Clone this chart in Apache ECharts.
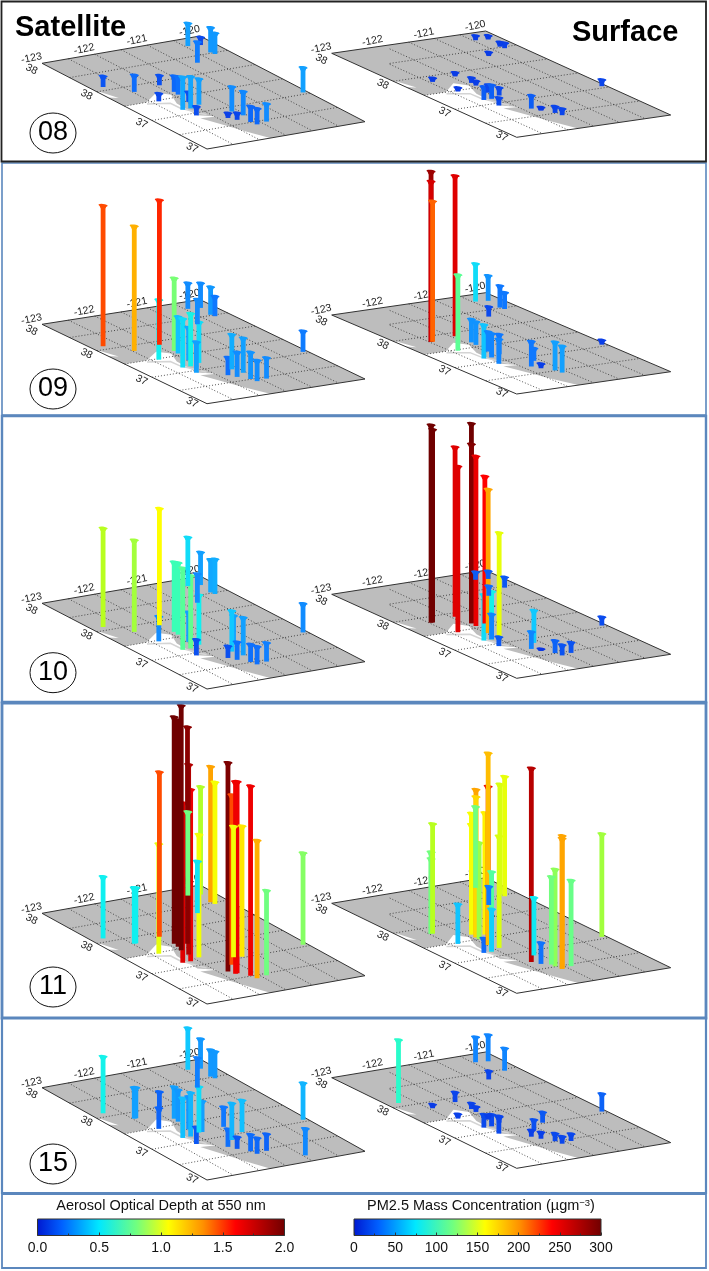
<!DOCTYPE html>
<html><head><meta charset="utf-8">
<style>html,body{margin:0;padding:0;background:#fff}#c{width:709px;height:1271px}</style>
<script src="https://cdn.jsdelivr.net/npm/echarts@6/dist/echarts.min.js"></script>
</head><body><div id="c"></div>
<script>
// Monitoring stations (longitude, latitude)
const stationLon=[-122.78,-122.47,-122.44,-121.93,-122.38,-121.90,-121.92,-122.27,-121.97,-122.12,-121.90,-122.23,-120.45,-120.24,-120.77,-120.28,-120.30,-121.62,-121.40,-121.27,-121.56,-121.85,-121.77,-121.64,-121.61,-121.40,-120.08,-120.96,-121.97,-121.71,-121.80,-121.84,-121.40,-121.93,-121.64];
const stationLat=[37.70,37.61,37.61,37.63,37.49,37.55,37.52,37.38,37.44,37.38,37.40,37.31,37.93,37.92,37.77,37.82,37.84,37.29,37.35,37.34,37.24,37.24,37.21,37.17,37.14,37.15,37.35,37.055,37.485,37.53,37.21,37.40,37.41,37.50,37.19];
const sat08=[[0,.11],[1,.17],[4,.08],[3,.10],[5,.16],[6,.18],[7,.33],[8,.10],[9,.32],[11,.09],[10,.26,.3],[12,.23,.3],[13,.08],[16,.25,.28],[15,.21,.28],[14,.21],[21,.05],[17,.25],[22,.07],[20,.24],[23,.16],[24,.16],[25,.18,.25],[26,.25,.3]];
const sat09=[[0,1.41,1.40],[1,1.25,1.25],[4,.6,.55],[3,1.45,1.45],[5,.73,.85],[6,.37,.42],[7,.49,.5],[8,.33],[9,.53,.58],[10,.41,.5],[11,.31,.3],[12,.26,.25],[13,.25],[16,.28],[15,.2],[14,.25],[21,.18],[17,.35],[22,.25],[20,.35,.3],[23,.27],[24,.21,.25],[25,.21,.25],[26,.21]];
const sat10=[[0,.99,1.0],[1,.92,.95],[4,.25],[3,1.17,1.15],[8,.3],[5,.70,.72],[6,.72],[7,.82,.78],[9,.73,.8],[10,.5,.55],[11,.16,.1],[12,.49,.5],[13,.33,.3],[14,.29,.25],[16,.33],[15,.35],[18,.29,.3],[17,.41,.45],[20,.38,.3],[21,.12,.1],[22,.18],[23,.18],[24,.18],[25,.19,.22],[26,.29,.25]];
const sat11=[[0,.62,.55],[1,.56,.55],[2,.56,.55],[4,1.1],[3,1.65,1.4],[7,1.6,1.6],[9,1.72,1.55],[8,1.9,1.75],[29,2.17,1.9],[5,2.27,2.0],[6,2.27,2.0],[28,2.45,2.0],[12,.84,.83],[13,1.08,.98],[10,1.23,1.12],[14,.52],[16,1.36,1.27],[15,1.22,1.13],[21,2.09,1.95],[17,1.7,1.4],[22,1.92,1.55],[30,1.92,1.55],[18,1.31,1.12],[19,1.31,1.18],[23,1.9,1.55],[24,1.38,1.25],[25,.85,.83],[26,.92,.88]];
const sat15=[[0,.57],[1,.31,.3],[2,.31,.3],[3,.2,.15],[4,.21,.15],[5,.32,.3],[6,.32,.28],[7,.4,.42],[8,.33,.28],[9,.44,.38],[11,.17,.12],[31,.31,.3],[10,.46,.5],[12,.42,.45],[13,.3,.28],[14,.3,.22],[16,.27,.28],[15,.27,.28],[32,.2],[21,.18],[17,.37,.38],[19,.32,.42],[22,.12],[23,.17],[24,.16],[25,.17,.15],[26,.37,.38],[27,.27,.24]];
const sur08=[[2,6],[3,6],[4,6],[5,8],[6,7],[7,20],[8,12],[9,21],[11,12],[10,12],[12,7],[13,6],[15,8],[16,7],[14,6],[21,20],[22,5],[23,10],[24,10],[26,10]];
const sur09=[[1,256,275],[1,241,245],[2,211,205],[3,241,240],[4,114,118],[12,57,75],[13,38,40],[15,25,30],[16,33,30],[14,15,12],[5,35,40],[6,35,40],[7,51,65],[9,36,35],[8,30,35],[10,30],[11,37,35],[21,38,30],[17,19,30],[22,7],[23,43,45],[24,40,45],[26,7]];
const sur10=[[1,297,300],[2,290,300],[3,255,240],[4,249,240],[5,300,300],[5,269,290],[6,255,235],[7,69,75],[29,221,225],[8,216,190],[9,72,85],[10,155,165],[11,14,18],[9,38,35],[12,12,20],[13,12,20],[15,16,18],[14,15,25],[17,49,68],[21,26,35],[22,3],[23,19,22],[24,16],[25,16],[26,13]];
const sur11=[[1,123,125],[1,113,125],[2,165,150],[4,60,65],[5,182,170],[5,165,170],[6,222,190],[6,211,180],[33,145,140],[29,183,175],[7,22,25],[8,238,235],[8,288,185],[12,122,125],[9,120,115],[14,28,30],[9,64,70],[10,168,160],[16,166,160],[15,180,165],[21,291,260],[17,87,80],[22,32,28],[23,146,135],[34,132,125],[25,129,122],[24,200,190],[24,196,190],[26,155,142]];
const sur15=[[0,95,100],[2,6],[3,15,10],[4,7,8],[5,9],[6,8],[7,20,12],[9,18,12],[8,7],[11,25,12],[10,10],[12,38,35],[13,40,35],[15,34,35],[14,13,10],[19,16,18],[17,16,15],[21,10,8],[22,10,8],[23,12],[24,11],[25,11],[26,27,22]];

// Map axes and land-mask outline
const lonTicks=[-123,-122,-121,-120];
const latTicks=[38,37.667,37.333,37];
const latTickLabels=['38','38','37','37'];
const gridLons=[-123,-122.5,-122,-121.5,-121,-120.5,-120];
const gridLats=[38,37.833,37.667,37.5,37.333,37.167,37];
const maskLon=[-123,-123,-122.58,-122.18,-122.02,-122.18,-122.21,-121.97,-122.25,-122.08,-121.96,-121.8];
const maskLat=[37,37.5,37.5,37.57,37.53,37.445,37.31,37.27,37.28,37.17,37.09,37];
const streakLon=[-123,-122.96,-122.86,-123];
const streakLat=[37.66,37.66,37.58,37.6];
const coastLon=[-122.62,-122.27,-122.26,-122.07];
const coastLat=[37.485,37.455,37.40,37.30];

// Colour bars
const aodTicks=[0,2], pmTicks=[0,300];
const panelNames=['08','09','10','11','15'];
const satPanels=[sat08,sat09,sat10,sat11,sat15];
const surPanels=[sur08,sur09,sur10,sur11,sur15];

// Layout (plane corners in the page)
const satPlane={ax:42,bx:200,dx:207,ay:[63.3,324.3,603.3,913.3,1087.7],by:[36,299.6,576,885,1059],dy:[149,403.7,689,1004,1180],pxPerUnit:100,norm:1,inset:3};
const surPlane={ax:331.7,bx:485.7,dx:516.7,ay:[53.3,315,594.3,903.3,1077.7],by:[31,292.7,570.3,877.7,1052],dy:[137.3,394,678.3,993.3,1168.3],pxPerUnit:100/150,norm:150,inset:58};
const circleY=[133,389,672.7,987,1164];
const colorStops=[[0,'#0a2fe0'],[.1,'#0b50f0'],[.2,'#0f78ff'],[.3,'#12a0ff'],[.45,'#10c8ff'],[.55,'#10f0f0'],[.7,'#30ffc0'],[.83,'#70ff80'],[1,'#b8ff20'],[1.15,'#ffff00'],[1.25,'#ffb000'],[1.38,'#ff5a00'],[1.5,'#ff0000'],[1.7,'#c00000'],[2,'#700000']];
const barStops=[[0,'#0018d0'],[.1,'#0060ff'],[.25,'#00e8ff'],[.4,'#70ff80'],[.53,'#ffff00'],[.67,'#ff9000'],[.8,'#ff0000'],[1,'#700000']];

function hex(c){return [1,3,5].map(i=>parseInt(c.substr(i,2),16));}
function colorOf(v){
  if(v<=colorStops[0][0])return colorStops[0][1];
  for(let i=1;i<colorStops.length;i++){
    if(v<=colorStops[i][0]){
      const a=colorStops[i-1],b=colorStops[i],f=(v-a[0])/(b[0]-a[0]),x=hex(a[1]),y=hex(b[1]);
      return 'rgb('+x.map((q,k)=>Math.round(q+(y[k]-q)*f)).join(',')+')';
    }
  }
  return colorStops[colorStops.length-1][1];
}
function shear(p,cs,shX,shY){
  const u=(p[0]-cs.x)/cs.width,v=(p[1]-cs.y)/cs.height;
  return [p[0]+v*shX,p[1]+u*shY];
}
const grids=[],xAxes=[],yAxes=[],series=[],graphic=[];
function addPlane(cfg,row,list){
  const idx=grids.length, ax=cfg.ax, ay=cfg.ay[row];
  const shX=cfg.dx-ax, shY=cfg.by[row]-ay;
  grids.push({left:ax,top:ay,width:cfg.bx-ax,height:cfg.dy[row]-ay,show:false});
  xAxes.push({type:'value',gridIndex:idx,min:-123,max:-120,show:false});
  yAxes.push({type:'value',gridIndex:idx,min:37,max:38,show:false});
  const P=(api,cs,lon,lat)=>shear(api.coord([lon,lat]),cs,shX,shY);
  series.push({type:'custom',coordinateSystem:'cartesian2d',xAxisIndex:idx,yAxisIndex:idx,silent:true,z:2,
    data:[[-123,38]],
    renderItem(params,api){
      const cs=params.coordSys,ch=[];
      const corners=[[-123,38],[-120,38],[-120,37],[-123,37]].map(c=>P(api,cs,c[0],c[1]));
      ch.push({type:'polygon',shape:{points:corners},style:{fill:'#bdbdbd',stroke:null}});
      ch.push({type:'polygon',shape:{points:maskLon.map((l,i)=>P(api,cs,l,maskLat[i]))},style:{fill:'#fff'}});
      ch.push({type:'polygon',shape:{points:streakLon.map((l,i)=>P(api,cs,l,streakLat[i]))},style:{fill:'#fff'}});
      ch.push({type:'polyline',shape:{points:coastLon.map((l,i)=>P(api,cs,l,coastLat[i]))},style:{fill:null,stroke:'#d4d4d4',lineWidth:1.5}});
      const minX=cfg.ax+cfg.inset;
      const seg=(a,b)=>{
        if(a[0]<minX){const f=(minX-a[0])/(b[0]-a[0]);if(f>=1)return;a=[minX,a[1]+(b[1]-a[1])*f];}
        ch.push({type:'line',shape:{x1:a[0],y1:a[1],x2:b[0],y2:b[1]},style:{stroke:'#2a2a2a',lineWidth:.8,lineDash:[1,2]}});
      };
      gridLats.slice(1,-1).forEach(la=>seg(P(api,cs,-123,la),P(api,cs,-120,la)));
      gridLons.slice(1,-1).forEach(lo=>seg(P(api,cs,lo,38),P(api,cs,lo,37)));
      ch.push({type:'polygon',shape:{points:corners},style:{fill:null,stroke:'#333',lineWidth:1}});
      lonTicks.forEach(lo=>{
        const p=P(api,cs,lo,38);
        ch.push({type:'text',x:p[0]-10.5,y:p[1]-5,rotation:12*Math.PI/180,style:{text:String(lo),fill:'#222',font:'10.5px "Liberation Sans"',align:'center',verticalAlign:'middle'}});
      });
      latTicks.forEach((la,i)=>{
        const p=P(api,cs,-123,la);
        ch.push({type:'text',x:p[0]-(i==3?15:10.5),y:p[1]+(i==0?6:i==3?-1:3),rotation:-27*Math.PI/180,style:{text:latTickLabels[i],fill:'#222',font:'10.5px "Liberation Sans"',align:'center',verticalAlign:'middle'}});
      });
      return {type:'group',children:ch};
    }
  });
  series.push({type:'custom',coordinateSystem:'cartesian2d',xAxisIndex:idx,yAxisIndex:idx,silent:true,z:3,
    encode:{x:0,y:1},
    data:list.map(e=>[stationLon[e[0]],stationLat[e[0]],e[1],e.length>2?e[2]:e[1]]),
    renderItem(params,api){
      const cs=params.coordSys;
      const b=P(api,cs,api.value(0),api.value(1));
      const h=api.value(2)*cfg.pxPerUnit;
      const fill=colorOf(api.value(3)/cfg.norm);
      const x=b[0],top=b[1]-h,hw=2.4,cap=[];
      for(let i=0;i<16;i++){
        const a=i/16*2*Math.PI,ex=4.6*Math.cos(a),ey=1.4*Math.sin(a);
        cap.push([x+ex,top+ey+ex*.12]);
      }
      return {type:'group',children:[
        {type:'rect',shape:{x:x-hw,y:top,width:hw*2,height:h},style:{fill}},
        {type:'polygon',shape:{points:[[x-3.8,top],[x+3.8,top],[x+hw,top+Math.min(3,h)],[x-hw,top+Math.min(3,h)]]},style:{fill}},
        {type:'polygon',shape:{points:cap},style:{fill}}
      ]};
    }
  });
}
panelNames.forEach((n,r)=>{addPlane(satPlane,r,satPanels[r]);addPlane(surPlane,r,surPanels[r]);});

// Colour bars: real axes over a gradient-filled grid
const barGradient=new echarts.graphic.LinearGradient(0,0,1,0,barStops.map(s=>({offset:s[0],color:s[1]})));
function addBar(left,width,max,interval,fmt){
  const idx=grids.length;
  grids.push({left,top:1219,width,height:16.5,show:true,backgroundColor:barGradient,borderColor:'#333',borderWidth:1});
  xAxes.push({type:'value',gridIndex:idx,min:0,max,interval,position:'bottom',
    axisLine:{show:false},splitLine:{show:false},
    axisTick:{show:true,inside:true,length:3,lineStyle:{color:'#333',width:1}},
    minorTick:{show:true,splitNumber:2,length:2,lineStyle:{color:'#333',width:1}},
    axisLabel:{show:true,margin:6,formatter:fmt,color:'#111',fontFamily:'Liberation Sans',fontSize:14,hideOverlap:false,showMinLabel:true,showMaxLabel:true}});
  yAxes.push({type:'value',gridIndex:idx,min:0,max:1,show:false});
}
addBar(37.5,247,aodTicks[1],.5,v=>v.toFixed(1));
addBar(354,247,pmTicks[1],50,v=>String(v));

// Frames, headings, day badges
const blue='#5b87bd';
[[2,163,704,252,1.6],[2,416,704,286,2.4],[2,703,704,315,2.8],[2,1018,704,175,2.2],[2,1194,704,74,1.8]].forEach(r=>{
  graphic.push({type:'rect',z:100,shape:{x:r[0],y:r[1],width:r[2],height:r[3]},style:{fill:null,stroke:blue,lineWidth:r[4]}});
});
graphic.push({type:'rect',z:101,shape:{x:1.5,y:1.5,width:704.5,height:160},style:{fill:null,stroke:'#222',lineWidth:1.8}});
const T=(text,x,y,font,extra)=>graphic.push(Object.assign({type:'text',z:102,x,y,style:Object.assign({text,fill:'#000',font,align:'left',verticalAlign:'middle'},extra||{})}));
T('Satellite',15,28,'bold 29px "Liberation Sans"');
T('Surface',572,33,'bold 29px "Liberation Sans"');
panelNames.forEach((n,i)=>{
  graphic.push({type:'ellipse',z:102,shape:{cx:53,cy:circleY[i],rx:23,ry:20},style:{fill:'#fff',stroke:'#111',lineWidth:1}});
  T(n,53,circleY[i],'27px "Liberation Sans"',{align:'center'});
});
T('Aerosol Optical Depth at 550 nm',161,1206,'14.5px "Liberation Sans"',{align:'center',fill:'#111'});
graphic.push({type:'text',z:102,x:481,y:1206,style:{text:'{a|PM2.5 Mass Concentration (µgm}{b|−3}{a|)}',align:'center',verticalAlign:'middle',
  rich:{a:{font:'14.5px "Liberation Sans"',fill:'#111',color:'#111'},b:{font:'9.5px "Liberation Sans"',fill:'#111',color:'#111',verticalAlign:'top',padding:[0,0,6,0]}}}});

const chart=echarts.init(document.getElementById('c'),null,{renderer:'canvas'});
chart.setOption({animation:false,backgroundColor:'#fff',grid:grids,xAxis:xAxes,yAxis:yAxes,series,graphic:{elements:graphic}});
</script></body></html>
